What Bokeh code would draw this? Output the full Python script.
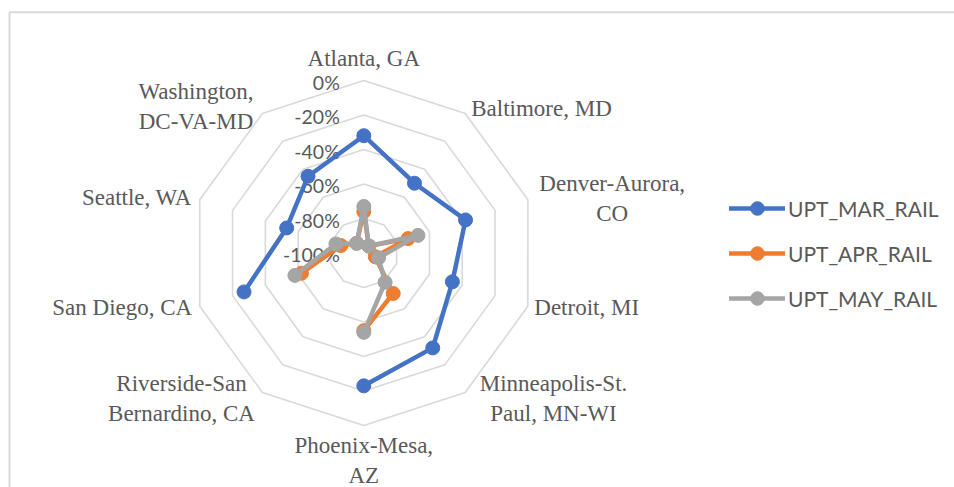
import math
from bokeh.plotting import figure
from bokeh.models import Range1d, Legend, LegendItem, ColumnDataSource
from bokeh.embed import file_html
from bokeh.resources import INLINE
from bokeh.core.properties import value

# ---------------- data ----------------
categories = ["Atlanta, GA", "Baltimore, MD", "Denver-Aurora, CO", "Detroit, MI",
              "Minneapolis-St. Paul, MN-WI", "Phoenix-Mesa, AZ",
              "Riverside-San Bernardino, CA", "San Diego, CA", "Seattle, WA",
              "Washington, DC-VA-MD"]
category_labels = ["Atlanta, GA", "Baltimore, MD", "Denver-Aurora,\nCO", "Detroit, MI",
                   "Minneapolis-St.\nPaul, MN-WI", "Phoenix-Mesa,\nAZ",
                   "Riverside-San\nBernardino, CA", "San Diego, CA", "Seattle, WA",
                   "Washington,\nDC-VA-MD"]
series_names = ["UPT_MAR_RAIL", "UPT_APR_RAIL", "UPT_MAY_RAIL"]
upt_mar_rail = [-32, -50, -38, -46, -32, -23, None, -27, -53, -45]
upt_apr_rail = [-76, -95, -73, -93, -71, -55, None, -62, -86, -93]
upt_may_rail = [-73, -95, -67, -91, -79, -54, None, -58, -83, -93]
tick_values = [0, -20, -40, -60, -80, -100]
tick_labels = ["0%", "-20%", "-40%", "-60%", "-80%", "-100%"]
r_min, r_max = -100, 0

# ---------------- layout / style ----------------
W, H = 954, 487
CX, CY, R = 363.3, 252.5, 172.5
colors = ["#4472C4", "#ED7D31", "#A5A5A5"]
grid_color = "#D9D9D9"
text_color = "#595959"
N = len(categories)

# label placement offsets (relative to the radar centre) and alignment
label_layout = [(0, -194.5, "center"), (107.4, -144.5, "left"), (248.4, -54.5, "center"),
                (170.5, 54.5, "left"), (189.7, 145.5, "center"), (0, 207.3, "center"),
                (-182.3, 145.5, "center"), (-171.6, 54.5, "right"), (-172.0, -56.0, "right"),
                (-167.8, -146.9, "center")]


def radius(v):
    return R * (v - r_min) / (r_max - r_min)


def polar(vals):
    xs, ys = [], []
    for i, v in enumerate(list(vals) + [vals[0]]):
        a = 2 * math.pi * (i % N) / N
        if v is None:
            xs.append(float("nan"))
            ys.append(float("nan"))
        else:
            r = radius(v)
            xs.append(CX + r * math.sin(a))
            ys.append(CY - r * math.cos(a))
    return xs, ys


p = figure(width=W, height=H, x_range=Range1d(0, W), y_range=Range1d(H, 0),
           x_axis_type=None, y_axis_type=None, toolbar_location=None,
           output_backend="svg", min_border=0, outline_line_color=None,
           background_fill_color="white", border_fill_color="white")
p.grid.visible = False

# chart border (Excel chart area frame)
p.quad(left=[9], right=[W + 20], top=[11.7], bottom=[H + 20],
       fill_alpha=0, line_color=grid_color, line_width=2)

# grid rings
for t in tick_values:
    if t == r_min:
        continue
    gx, gy = polar([t] * N)
    p.line(gx, gy, line_color=grid_color, line_width=1.6)

# radial tick labels
tick_src = ColumnDataSource(dict(x=[CX - 24] * len(tick_values),
                                 y=[CY - radius(t) + 1.5 for t in tick_values],
                                 text=tick_labels))
p.text(x="x", y="y", text="text", source=tick_src, text_align="right",
       text_baseline="middle", text_font=value("Lato"), text_font_size="19.5px",
       text_color=text_color)

# category labels
for align in ["left", "center", "right"]:
    xs, ys, ts = [], [], []
    for lab, (dx, dy, al) in zip(category_labels, label_layout):
        if al == align:
            xs.append(CX + dx)
            ys.append(CY + dy)
            ts.append(lab)
    p.text(x=xs, y=ys, text=ts, text_align=align, text_baseline="middle",
           text_font=value("Liberation Serif"), text_font_size="23px",
           text_color=text_color, text_line_height=1.2)

# series
items = []
for name, vals, col in zip(series_names, [upt_mar_rail, upt_apr_rail, upt_may_rail], colors):
    sx, sy = polar(vals)
    lr = p.line(sx, sy, line_color=col, line_width=4.5, line_join="round", line_cap="round")
    sr = p.scatter(sx[:-1], sy[:-1], size=14, marker="circle", fill_color=col, line_color=col)
    items.append(LegendItem(label=name, renderers=[lr, sr]))

legend = Legend(items=items, location=(729, 172), orientation="vertical",
                label_text_font="Lato", label_text_font_size="21px",
                label_text_color=text_color, glyph_width=56, glyph_height=34,
                label_height=34, spacing=11, padding=0, margin=0, label_standoff=3,
                border_line_color=None, background_fill_alpha=0)
p.add_layout(legend)

open("out.html", "w").write(file_html(p, INLINE))
